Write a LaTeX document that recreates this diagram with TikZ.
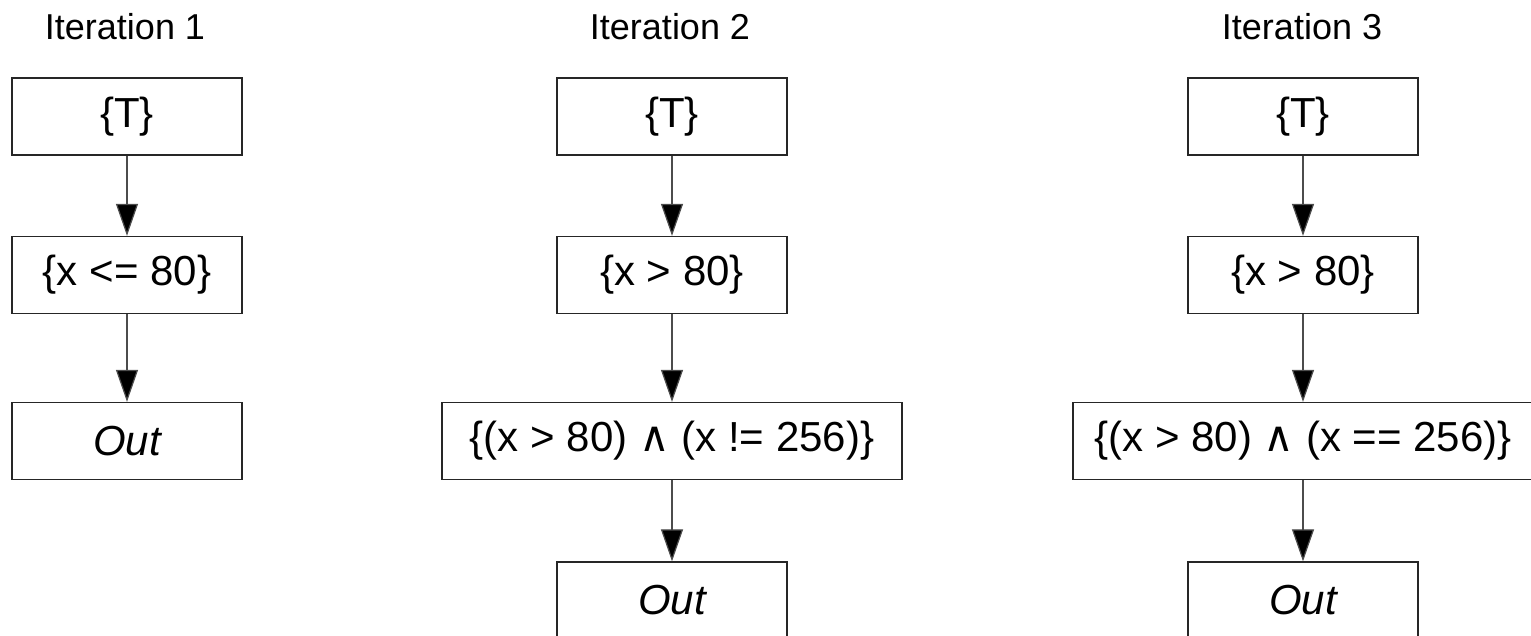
\documentclass[tikz,border=0pt]{standalone}
\usepackage{fontspec}
\setmainfont{Liberation Sans}
\newfontfamily\symfont{DejaVu Sans}
\usetikzlibrary{arrows.meta}
\tikzset{
  box/.style={draw=black!85, line width=0.65pt, minimum width=115pt, minimum height=38.5pt, inner sep=0pt, font=\fontsize{21}{25}\selectfont},
  widebox/.style={box, minimum width=230pt},
  title/.style={font=\fontsize{18}{22}\selectfont, inner sep=0pt},
  conn/.style={draw=black!70, line width=0.6pt, -{Triangle[width=11pt,length=16pt,fill=black]}}
}
\newcommand{\andsym}{{\symfont\char"2227}}
\begin{document}
\begin{tikzpicture}[x=0.5pt,y=-0.5pt]
\useasboundingbox (0,0) rectangle (1531,636);
% column 1
\node[title] (t1) at (125,27) {Iteration 1};
\node[box] (a1) at (127,116.5) {\{T\}};
\node[box] (a2) at (127,275) {\{x <= 80\}};
\node[box] (a3) at (127,441) {\itshape Out};
\draw[conn] (a1) -- (a2);
\draw[conn] (a2) -- (a3);
% column 2
\node[title] (t2) at (670,27) {Iteration 2};
\node[box] (b1) at (672,116.5) {\{T\}};
\node[box] (b2) at (672,275) {\{x > 80\}};
\node[widebox] (b3) at (672,441) {\{(x > 80) \andsym{} (x != 256)\}};
\node[box] (b4) at (672,600.5) {\itshape Out};
\draw[conn] (b1) -- (b2);
\draw[conn] (b2) -- (b3);
\draw[conn] (b3) -- (b4);
% column 3
\node[title] (t3) at (1302,27) {Iteration 3};
\node[box] (c1) at (1303,116.5) {\{T\}};
\node[box] (c2) at (1303,275) {\{x > 80\}};
\node[widebox] (c3) at (1303,441) {\{(x > 80) \andsym{} (x == 256)\}};
\node[box] (c4) at (1303,600.5) {\itshape Out};
\draw[conn] (c1) -- (c2);
\draw[conn] (c2) -- (c3);
\draw[conn] (c3) -- (c4);
\end{tikzpicture}
\end{document}
